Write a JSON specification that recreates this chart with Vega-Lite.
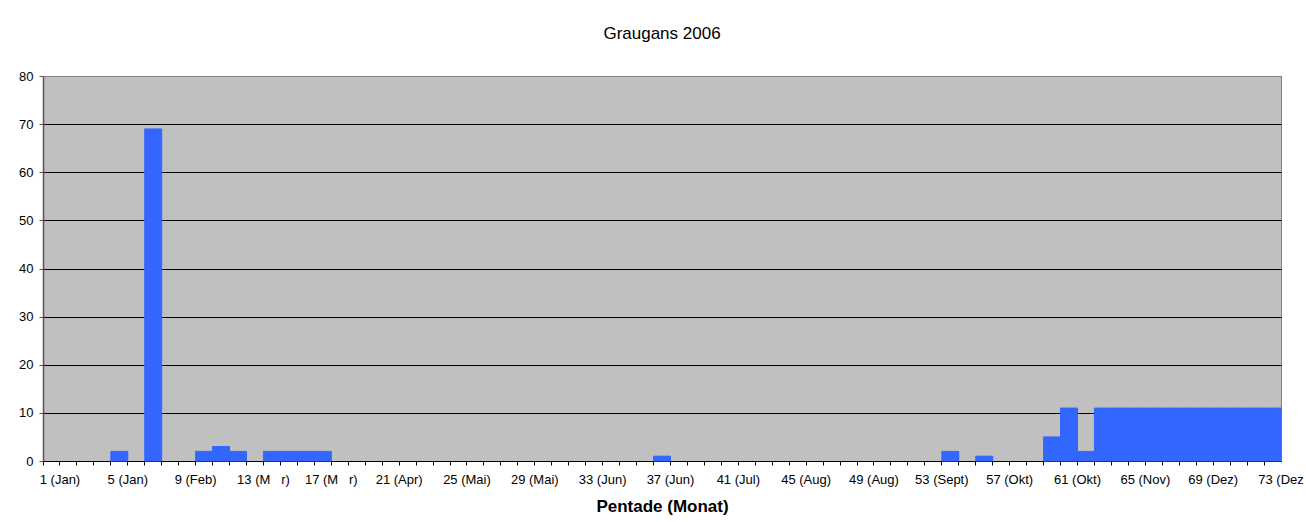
{
  "$schema": "https://vega.github.io/schema/vega-lite/v6.json",
  "width": 1238,
  "height": 385,
  "autosize": {"type": "none"},
  "padding": {"left": 43, "top": 76, "right": 25, "bottom": 61},
  "background": "white",
  "title": {
    "text": "Graugans 2006",
    "font": "Liberation Sans",
    "fontSize": 17,
    "fontWeight": "normal",
    "color": "black",
    "anchor": "middle",
    "offset": 27
  },
  "config": {
    "view": {"fill": "#C0C0C0", "stroke": "#808080", "strokeWidth": 1},
    "axis": {"labelFont": "Liberation Sans", "titleFont": "Liberation Sans", "labelColor": "black", "titleColor": "black"}
  },
  "data": {
    "values": [
      {"pentade": 1, "anzahl": 0}, {"pentade": 2, "anzahl": 0}, {"pentade": 3, "anzahl": 0}, {"pentade": 4, "anzahl": 0},
      {"pentade": 5, "anzahl": 2}, {"pentade": 6, "anzahl": 0}, {"pentade": 7, "anzahl": 69}, {"pentade": 8, "anzahl": 0},
      {"pentade": 9, "anzahl": 0}, {"pentade": 10, "anzahl": 2}, {"pentade": 11, "anzahl": 3}, {"pentade": 12, "anzahl": 2},
      {"pentade": 13, "anzahl": 0}, {"pentade": 14, "anzahl": 2}, {"pentade": 15, "anzahl": 2}, {"pentade": 16, "anzahl": 2},
      {"pentade": 17, "anzahl": 2}, {"pentade": 18, "anzahl": 0}, {"pentade": 19, "anzahl": 0}, {"pentade": 20, "anzahl": 0},
      {"pentade": 21, "anzahl": 0}, {"pentade": 22, "anzahl": 0}, {"pentade": 23, "anzahl": 0}, {"pentade": 24, "anzahl": 0},
      {"pentade": 25, "anzahl": 0}, {"pentade": 26, "anzahl": 0}, {"pentade": 27, "anzahl": 0}, {"pentade": 28, "anzahl": 0},
      {"pentade": 29, "anzahl": 0}, {"pentade": 30, "anzahl": 0}, {"pentade": 31, "anzahl": 0}, {"pentade": 32, "anzahl": 0},
      {"pentade": 33, "anzahl": 0}, {"pentade": 34, "anzahl": 0}, {"pentade": 35, "anzahl": 0}, {"pentade": 36, "anzahl": 0},
      {"pentade": 37, "anzahl": 1}, {"pentade": 38, "anzahl": 0}, {"pentade": 39, "anzahl": 0}, {"pentade": 40, "anzahl": 0},
      {"pentade": 41, "anzahl": 0}, {"pentade": 42, "anzahl": 0}, {"pentade": 43, "anzahl": 0}, {"pentade": 44, "anzahl": 0},
      {"pentade": 45, "anzahl": 0}, {"pentade": 46, "anzahl": 0}, {"pentade": 47, "anzahl": 0}, {"pentade": 48, "anzahl": 0},
      {"pentade": 49, "anzahl": 0}, {"pentade": 50, "anzahl": 0}, {"pentade": 51, "anzahl": 0}, {"pentade": 52, "anzahl": 0},
      {"pentade": 53, "anzahl": 0}, {"pentade": 54, "anzahl": 2}, {"pentade": 55, "anzahl": 0}, {"pentade": 56, "anzahl": 1},
      {"pentade": 57, "anzahl": 0}, {"pentade": 58, "anzahl": 0}, {"pentade": 59, "anzahl": 0}, {"pentade": 60, "anzahl": 5},
      {"pentade": 61, "anzahl": 11}, {"pentade": 62, "anzahl": 2}, {"pentade": 63, "anzahl": 11}, {"pentade": 64, "anzahl": 11},
      {"pentade": 65, "anzahl": 11}, {"pentade": 66, "anzahl": 11}, {"pentade": 67, "anzahl": 11}, {"pentade": 68, "anzahl": 11},
      {"pentade": 69, "anzahl": 11}, {"pentade": 70, "anzahl": 11}, {"pentade": 71, "anzahl": 11}, {"pentade": 72, "anzahl": 11},
      {"pentade": 73, "anzahl": 11}
    ]
  },
  "mark": {"type": "bar", "color": "#3366FF", "strokeWidth": 1},
  "encoding": {
    "stroke": {"condition": {"test": "datum.anzahl > 0", "value": "#3366FF"}, "value": null},
    "x": {
      "field": "pentade",
      "type": "ordinal",
      "sort": "ascending",
      "scale": {"paddingInner": 0, "paddingOuter": 0},
      "axis": {
        "title": "Pentade (Monat)",
        "titleFontSize": 17,
        "titleFontWeight": "bold",
        "titlePadding": 12,
        "bandPosition": 0,
        "labelOffset": 8.48,
        "labelAngle": 0,
        "labelFontSize": 13,
        "labelPadding": 8,
        "labelOverlap": false,
        "labelBound": false,
        "labelFlush": false,
        "labelExpr": "datum.value % 4 == 1 ? datum.value + ' (' + ['Jan','Jan','Feb','M\u00a0\u00a0\u00a0r','M\u00a0\u00a0\u00a0r','Apr','Mai','Mai','Jun','Jun','Jul','Aug','Aug','Sept','Okt','Okt','Nov','Dez','Dez'][(datum.value - 1) / 4] + (datum.value == 73 ? '' : ')') : ''",
        "tickSize": 4,
        "tickColor": "black",
        "domainColor": "black",
        "domainWidth": 1,
        "grid": false
      }
    },
    "y": {
      "field": "anzahl",
      "type": "quantitative",
      "scale": {"domain": [0, 80], "nice": false},
      "axis": {
        "title": null,
        "values": [0, 10, 20, 30, 40, 50, 60, 70, 80],
        "labelFontSize": 13,
        "labelPadding": 6,
        "tickSize": 4,
        "tickColor": "#555555",
        "domainColor": "#555555",
        "domainWidth": 1.5,
        "grid": true,
        "gridColor": {"condition": {"test": "datum.value == 80", "value": "#808080"}, "value": "black"},
        "gridOpacity": 1,
        "gridWidth": 1
      }
    }
  }
}
